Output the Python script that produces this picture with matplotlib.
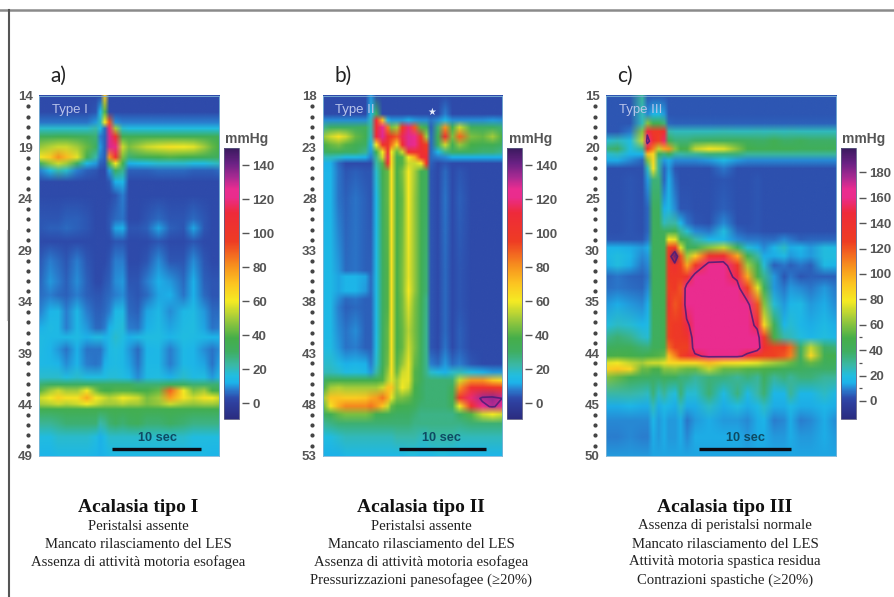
import numpy as np
import matplotlib
matplotlib.use("Agg")
import matplotlib.pyplot as plt
from matplotlib.colors import LinearSegmentedColormap, Normalize
from matplotlib.image import NonUniformImage
from matplotlib.lines import Line2D

W, H = 894, 597

# ---------- colour scale (mmHg on the 150 scale -> colour) ----------
cmap_values = [-9.4, 0, 3, 8, 12, 16, 22, 30, 38, 50, 60, 70, 80, 95, 112, 121, 126, 133, 141, 150]
cmap_colors = ["#2b2c80", "#2e3f9e", "#2e4cac", "#2a80d0", "#1cb4ea", "#22bde0", "#3ab8a8",
               "#3fae62", "#45ae4a", "#a4cc3a", "#f5ea23", "#fcc521", "#f7941e", "#ee3c23",
               "#ee2a3a", "#ea2c8c", "#ea2c90", "#a82a92", "#6a2184", "#3a1a5e"]

# ---------- panel a ----------
a_time = [0, 1.2, 2.1, 3.0, 4.2, 5.3, 6.3, 6.8, 7.3, 7.8, 8.5, 9.3, 10.0, 11.0, 12.0, 13.3, 14.6, 16.1, 17.2, 18.4, 19.3, 20.1]
a_depth = [14, 15.6, 16.6, 17.2, 18, 19, 20, 20.6, 21.3, 22.4, 23.7, 26, 26.9, 28.2, 30.1, 32.1, 33.4, 35, 36.6, 37.5,
           38.7, 40.1, 41.4, 42.1, 42.7, 43.4, 44, 44.5, 45.9, 47.2, 49]
a_pressure = [
    [3,3,3,3,3,3,3,3,70,3,3,3,3,3,3,3,3,3,3,3,3,3],
    [3,3,3,3,3,3,4,14,40,3,3,3,3,3,3,3,3,3,3,3,3,3],
    [7,7,7,7,7,7,10,20,60,90,9,8,8,8,8,8,8,8,8,8,8,8],
    [18,18,18,18,18,18,22,15,6,118,50,18,16,16,16,16,16,16,16,16,16,16],
    [33,33,35,35,33,32,28,8,5,128,105,35,34,34,34,34,34,34,34,34,34,34],
    [48,52,55,55,50,42,30,10,5,128,120,55,45,50,55,58,62,60,58,50,42,38],
    [60,68,80,72,58,35,22,8,5,80,105,45,28,32,35,38,40,38,36,34,32,32],
    [30,48,55,50,30,15,10,5,4,40,60,35,12,14,16,18,18,18,16,16,18,20],
    [8,15,22,18,8,5,4,3,3,10,30,25,5,5,5,6,6,6,5,5,5,6],
    [3,3,3,3,3,3,3,3,3,4,12,14,3,3,3,3,3,3,3,3,3,3],
    [3,3,3,3,3,3,3,3,3,3,4,8,3,3,3,3,3,3,3,3,3,3],
    [4,4,4,5,5,4,3,3,3,4,6,7,3,3,4,6,4,4,6,4,3,3],
    [4,5,5,6,5,4,3,3,3,4,11,12,4,4,5,11,5,4,11,4,3,3],
    [3,3,3,3,3,3,3,3,3,3,4,4,3,3,3,4,3,3,4,3,3,3],
    [4,8,6,4,8,4,3,3,3,4,8,8,3,3,4,9,4,4,9,4,3,3],
    [5,10,8,5,9,5,3,3,4,5,9,10,4,4,8,12,10,6,12,5,4,4],
    [6,8,6,5,8,5,4,4,5,6,8,9,5,4,6,11,12,7,12,6,4,4],
    [8,13,14,8,14,8,5,5,6,8,14,15,6,5,11,14,9,14,15,10,6,6],
    [12,15,14,8,14,10,6,6,8,12,16,17,8,7,12,15,11,15,16,11,7,8],
    [15,14,14,14,15,12,15,15,13,14,18,16,12,14,16,16,13,16,15,14,13,13],
    [15,13,10,7,12,7,7,7,10,14,16,14,10,6,13,14,8,14,13,9,7,9],
    [14,14,13,9,13,8,7,8,12,14,15,14,11,7,14,14,8,14,13,11,7,11],
    [18,18,18,16,18,16,16,16,16,17,17,16,14,9,15,16,12,18,15,16,10,15],
    [28,30,30,30,30,30,30,30,30,30,30,30,30,28,28,28,32,30,28,28,28,28],
    [40,50,55,50,50,60,45,40,38,38,40,40,40,38,38,42,88,60,45,50,38,35],
    [55,60,66,62,62,75,60,58,55,52,55,60,58,55,45,50,78,62,55,62,60,55],
    [50,52,55,52,55,60,55,52,50,50,50,52,50,50,45,48,55,50,48,50,50,48],
    [36,36,36,36,36,36,36,36,36,36,36,36,36,36,36,36,36,36,36,36,36,36],
    [24,24,26,28,28,28,28,22,24,28,30,28,30,32,28,28,30,28,26,26,26,26],
    [16,16,18,18,18,18,16,12,15,18,18,18,18,18,18,18,18,18,16,16,16,16],
    [13,13,14,14,14,14,13,12,13,14,14,14,14,14,14,14,14,14,14,14,13,13],
]

# ---------- panel b ----------
b_time = [0, 0.8, 1.7, 2.5, 3.6, 4.7, 5.3, 5.9, 6.6, 7.2, 7.6, 8.2, 8.8, 9.5, 10.2, 10.9, 11.5, 12.0, 12.8, 13.6, 14.4, 15.2, 16.5, 17.8, 18.9, 20.0]
b_depth = [18, 19.8, 20.4, 21.1, 22, 22.8, 23.5, 24, 24.6, 25.4, 28, 35, 35.6, 37, 37.8, 38.6, 40.9, 42.5, 44.1, 44.9,
           45.7, 46.4, 47.4, 48.2, 49, 49.9, 51.2, 53]
b_pressure = [
    [3,3,3,3,3,3,10,3,3,3,3,3,3,3,3,3,3,3,3,3,3,3,3,3,3,3],
    [3,3,3,3,3,3,14,30,3,3,3,3,3,3,3,3,3,3,3,8,3,3,3,3,3,3],
    [9,9,9,9,9,9,20,110,70,14,10,10,10,12,10,9,9,7,9,14,9,9,9,9,10,9],
    [25,30,30,30,30,32,22,108,126,85,45,50,95,118,90,40,32,5,28,80,35,55,32,30,30,28],
    [48,55,62,55,42,35,20,112,127,108,95,90,115,127,124,95,50,6,35,105,45,88,45,42,50,38],
    [38,42,45,40,35,30,12,60,102,102,85,65,108,127,122,108,95,6,30,55,35,48,38,35,35,30],
    [30,32,32,30,30,25,10,35,60,108,60,42,55,105,105,108,102,6,14,25,30,30,30,28,28,25],
    [20,20,18,15,15,12,8,25,55,115,65,35,40,60,75,105,110,6,8,9,12,12,12,12,12,12],
    [12,12,6,3,3,3,3,22,40,105,65,38,40,55,55,60,100,5,3,4,3,3,3,3,3,3],
    [13,13,7,4,5,4,4,18,35,42,62,38,45,60,50,35,32,4,3,6,3,4,3,3,3,3],
    [13,13,7,5,7,5,4,14,32,42,62,38,42,60,48,35,30,4,3,7,3,5,3,3,3,3],
    [14,14,10,6,7,5,5,15,30,40,62,38,45,58,48,35,28,4,3,6,3,4,3,3,3,3],
    [14,14,11,13,13,11,6,15,30,40,62,38,45,58,48,35,28,4,3,6,3,4,3,3,3,3],
    [14,14,11,13,13,10,6,15,30,40,62,38,45,60,48,35,28,4,3,6,3,4,3,3,3,3],
    [14,14,9,6,7,5,5,15,30,40,62,38,44,58,46,35,26,4,3,6,3,4,3,3,3,3],
    [14,14,8,5,6,5,5,15,30,40,62,38,44,56,45,34,26,4,3,6,3,4,3,3,3,3],
    [14,14,9,7,9,5,5,15,30,42,62,38,42,52,44,33,25,4,3,6,3,5,3,3,3,3],
    [15,15,10,7,8,5,5,16,32,42,62,38,42,55,45,32,25,4,3,7,3,5,3,3,3,3],
    [18,18,15,12,13,12,8,18,32,44,62,40,48,58,42,32,25,8,6,10,6,8,4,3,3,3],
    [20,20,18,15,16,14,10,22,35,48,62,42,55,58,40,32,25,18,15,12,18,20,16,12,10,10],
    [30,35,36,36,36,36,36,38,40,52,58,50,58,58,40,32,28,28,28,28,28,55,80,80,70,65],
    [38,50,52,50,50,50,50,50,55,70,70,50,60,55,38,30,28,28,28,28,32,80,105,105,100,95],
    [50,70,70,68,68,70,75,78,85,75,58,45,45,42,35,30,28,28,28,28,35,100,118,133,135,130],
    [42,62,75,82,82,82,85,80,70,55,42,38,36,35,32,28,28,28,28,28,32,60,105,125,132,125],
    [32,35,42,45,45,45,42,36,35,33,32,30,30,30,28,26,26,26,26,26,26,30,40,55,60,55],
    [24,26,28,28,28,28,28,28,28,28,28,28,28,28,26,26,26,26,26,26,26,26,28,28,28,28],
    [16,16,18,20,20,20,20,20,20,20,20,22,22,22,22,20,20,22,22,22,22,20,20,20,20,20],
    [12,12,12,14,14,14,14,14,14,14,14,14,14,16,16,14,14,14,16,16,14,14,13,13,13,13],
]

# ---------- panel c ----------
c_time = [0, 1.2, 2.6, 3.9, 4.5, 5.1, 5.7, 6.3, 6.8, 7.5, 8.1, 8.8, 9.7, 11.2, 12.8, 14.3, 15.4, 16.5, 17.2, 18.3, 19.4, 20.1, 21.2, 22.3, 23.8, 25.1]
c_depth = [15, 16.8, 17.7, 18.5, 19.4, 20.2, 20.7, 21.3, 22.1, 23.2, 26, 27.4, 28.2, 29, 29.8, 30.6, 31.5, 32.6, 33.7, 35.3,
           37.3, 38.5, 39.5, 40.3, 41, 41.6, 42.4, 44, 45.2, 46.6, 48.2, 50]
c_pressure = [
    [4,4,4,30,4,4,4,4,4,4,4,4,4,4,4,4,4,4,4,4,4,4,4,4,4,4],
    [4,4,4,25,10,16,18,12,4,4,4,4,4,4,4,4,4,4,4,4,4,4,4,4,4,4],
    [4,4,4,25,60,45,45,35,6,5,5,5,5,5,5,5,5,5,5,5,5,5,5,5,5,5],
    [4,4,8,60,150,130,130,140,28,25,25,25,25,25,26,25,25,26,25,26,25,26,25,25,25,25],
    [22,25,20,70,165,140,125,155,45,35,35,35,38,40,40,42,40,38,38,45,38,38,42,38,38,38],
    [35,38,20,30,130,110,70,100,105,60,48,50,70,80,75,60,48,45,45,45,45,45,42,42,42,42],
    [22,25,15,15,95,85,40,35,45,30,28,30,30,35,35,35,30,30,30,30,30,30,30,30,30,30],
    [14,14,10,6,60,85,30,12,14,10,10,10,10,12,18,12,10,10,10,10,10,10,10,10,10,10],
    [3,3,3,3,25,80,30,6,12,4,3,3,3,3,8,3,3,3,3,3,3,3,3,3,3,3],
    [3,3,4,3,12,35,35,6,14,6,3,3,3,3,4,3,3,4,3,3,3,3,3,3,3,3],
    [3,3,4,3,6,40,40,14,18,10,4,4,3,3,5,3,3,4,3,3,3,3,3,3,3,3],
    [3,3,4,3,6,40,42,25,28,28,16,8,4,3,10,3,3,4,3,3,3,3,3,3,3,3],
    [3,3,4,3,6,40,42,40,40,45,30,22,10,8,20,6,4,4,3,3,3,3,3,3,3,3],
    [4,4,4,4,8,42,42,45,80,75,45,38,28,16,16,10,8,8,7,7,10,8,5,6,6,6],
    [15,15,14,12,14,42,42,45,125,130,75,42,42,60,70,40,22,14,10,16,24,14,16,12,20,18],
    [16,20,16,10,12,42,42,45,130,190,120,65,90,135,140,100,45,28,14,14,18,12,14,12,20,20],
    [14,20,14,8,10,42,42,45,130,140,125,100,130,166,166,130,65,40,22,5,8,5,8,5,18,15],
    [6,8,6,5,8,42,42,45,130,130,130,135,166,166,166,150,100,50,32,12,4,8,4,5,5,5],
    [7,8,7,6,10,42,42,45,125,130,120,166,166,166,166,166,125,75,42,12,8,12,10,8,12,8],
    [12,14,12,10,14,42,42,45,135,120,125,166,166,166,166,166,165,120,60,22,12,16,18,12,14,10],
    [20,24,22,16,18,40,40,45,125,130,130,150,166,166,166,166,166,150,85,42,16,22,16,14,18,14],
    [32,36,32,24,22,40,40,45,125,130,130,135,166,166,166,166,166,166,130,50,28,25,20,16,20,16],
    [40,42,42,36,35,42,42,48,115,125,125,125,166,166,166,166,166,166,140,125,125,115,38,70,38,35],
    [48,50,48,45,48,50,52,55,95,110,125,135,150,160,160,160,150,130,125,125,120,110,40,85,45,48],
    [75,78,70,65,70,72,72,75,85,85,85,85,85,95,85,82,78,75,70,65,60,55,42,55,42,42],
    [88,92,85,55,55,50,50,60,60,62,58,55,55,70,55,55,52,52,50,48,42,42,40,38,38,38],
    [60,55,45,40,40,38,38,42,40,40,35,35,30,35,35,30,35,30,40,30,35,30,35,35,30,30],
    [28,28,28,26,24,35,24,30,24,20,35,22,22,36,18,34,18,28,36,16,16,30,16,16,24,16],
    [14,14,16,14,14,25,14,18,16,14,24,14,14,24,14,20,14,18,24,14,14,18,14,14,16,14],
    [10,10,10,10,10,16,12,14,12,12,14,8,12,14,12,12,10,14,15,9,10,14,9,10,14,10],
    [9,9,10,9,9,14,12,14,12,12,14,10,14,14,14,14,12,14,14,12,12,14,12,12,14,12],
    [12,12,12,12,12,13,13,13,13,13,13,13,13,13,13,13,13,13,13,13,13,13,13,13,13,13],
]

# ---------- labels ----------
a_ticks = [14, 19, 24, 29, 34, 39, 44, 49]
b_ticks = [18, 23, 28, 33, 38, 43, 48, 53]
c_ticks = [15, 20, 25, 30, 35, 40, 45, 50]
c_ticklabels = ["15", "20", "25", "30", "35", "44", "45", "50"]
ab_cbar_ticks = [0, 20, 40, 60, 80, 100, 120, 140]
c_cbar_ticks = [0, 20, 40, 60, 80, 100, 120, 140, 160, 180]
c_cbar_minor = [10, 30, 50]
titles = ["Acalasia tipo I", "Acalasia tipo II", "Acalasia tipo III"]
notes = [
    ["Peristalsi assente", "Mancato rilasciamento del LES", "Assenza di attività motoria esofagea"],
    ["Peristalsi assente", "Mancato rilasciamento del LES", "Assenza di attività motoria esofagea",
     "Pressurizzazioni panesofagee (≥20%)"],
    ["Assenza di peristalsi normale", "Mancato rilasciamento del LES", "Attività motoria spastica residua",
     "Contrazioni spastiche (≥20%)"],
]

# ---------- drawing ----------
cmap = LinearSegmentedColormap.from_list(
    "hrm", [((v + 9.4) / 159.4, col) for v, col in zip(cmap_values, cmap_colors)], N=512)

fig = plt.figure(figsize=(W / 100, H / 100), dpi=100, facecolor="white")
GREY = "#555555"


def rect(x0, y0, x1, y1):
    return [x0 / W, 1 - y1 / H, (x1 - x0) / W, (y1 - y0) / H]


def ftext(x, y, s, **kw):
    kw.setdefault("ha", "center")
    kw.setdefault("va", "center")
    return fig.text(x / W, 1 - y / H, s, **kw)


panels = [
    dict(time=a_time, depth=a_depth, z=a_pressure, ticks=a_ticks, labels=None, box=(39, 96, 219, 456),
         cbox=(224, 148, 239, 419), vmin=-9.4, vmax=150, cticks=ab_cbar_ticks, minor=[], bar=(8.1, 18.1), bar_off=0.7,
         level=None, label="a)", lx=58, ttl=(70, "Type I"), sec=157, mm=247, tx=138),
    dict(time=b_time, depth=b_depth, z=b_pressure, ticks=b_ticks, labels=None, box=(323, 96, 502, 456),
         cbox=(507, 148, 522, 419), vmin=-9.4, vmax=150, cticks=ab_cbar_ticks, minor=[], bar=(8.5, 18.25), bar_off=0.7,
         level=130, label="b)", lx=343, ttl=(355, "Type II"), sec=442, mm=531, tx=421),
    dict(time=c_time, depth=c_depth, z=c_pressure, ticks=c_ticks, labels=c_ticklabels, box=(606, 96, 836, 456),
         cbox=(841, 148, 856, 419), vmin=-14.2, vmax=199.2, cticks=c_cbar_ticks, minor=c_cbar_minor, bar=(10.2, 20.2),
         bar_off=0.7, level=155, label="c)", lx=625, ttl=(641, "Type III"), sec=746, mm=864, tx=725),
]

for i, p in enumerate(panels):
    x0, y0, x1, y1 = p["box"]
    ax = fig.add_axes(rect(x0, y0, x1, y1))
    z = np.array(p["z"], dtype=float)
    norm = Normalize(p["vmin"], p["vmax"])
    ax.set_xlim(p["time"][0], p["time"][-1])
    ax.set_ylim(p["ticks"][-1], p["ticks"][0])
    im = NonUniformImage(ax, interpolation="bilinear", cmap=cmap, norm=norm,
                         extent=(p["time"][0], p["time"][-1], p["ticks"][-1], p["ticks"][0]))
    im.set_data(p["time"], p["depth"], z)
    ax.add_image(im)
    if p["level"] is not None:
        ax.contour(p["time"], p["depth"], z, levels=[p["level"]], colors="#4a1d78", linewidths=1.2, alpha=0.85)
    ax.set_xlim(p["time"][0], p["time"][-1])
    ax.set_ylim(p["ticks"][-1], p["ticks"][0])
    ax.set_xticks([])
    ax.set_yticks(p["ticks"])
    ax.set_yticklabels(p["labels"] if p["labels"] else [str(t) for t in p["ticks"]],
                       fontsize=9.5, color=GREY, family="Liberation Sans", fontweight="bold")
    ax.tick_params(axis="y", length=0, pad=4.5)
    for s in ax.spines.values():
        s.set_edgecolor("#7fb6d8")
        s.set_linewidth(0.6)

    # dotted sensor column between the depth labels
    dots = [d for d in range(p["ticks"][0], p["ticks"][-1]) if d not in p["ticks"]]
    ax.plot([-11.5 / (x1 - x0)] * len(dots), dots, ls="none", marker="o", ms=2.0, color="#444444",
            transform=ax.get_yaxis_transform(), clip_on=False)

    # 10-second scale bar
    ax.plot(p["bar"], [p["ticks"][-1] - p["bar_off"]] * 2, color="#0b0b14", lw=2.4, solid_capstyle="butt")

    # colour bar
    cx0, cy0, cx1, cy1 = p["cbox"]
    cax = fig.add_axes(rect(cx0, cy0, cx1, cy1))
    cb = fig.colorbar(im, cax=cax)
    cb.set_ticks(p["cticks"])
    cb.set_ticklabels([str(t) for t in p["cticks"]])
    if p["minor"]:
        cb.ax.set_yticks(p["minor"], minor=True)
    cax.spines["right"].set_position(("outward", 2.5))
    cax.tick_params(axis="y", which="major", length=5, width=1.0, color="#555555", pad=2, labelsize=9.5,
                    labelcolor=GREY)
    cax.tick_params(axis="y", which="minor", length=2.5, width=0.9, color="#555555")
    for lab in cax.get_yticklabels():
        lab.set_family("Liberation Sans")
        lab.set_fontweight("bold")
    cb.outline.set_edgecolor("#5a5a80")
    cb.outline.set_linewidth(0.6)

    ftext(p["mm"], 139, "mmHg", fontsize=10, color=GREY, family="Liberation Sans", fontweight="bold")
    ftext(p["lx"], 76, p["label"], fontsize=15, color="#222222", family="Lato")
    ftext(p["ttl"][0], 110, p["ttl"][1], fontsize=9.5, color="#b9c4ea", family="Liberation Sans")
    ftext(p["sec"], 438, "10 sec", fontsize=9.2, color="#0e4a63", family="Liberation Sans", fontweight="bold")

    # captions
    ftext(p["tx"], 507, titles[i], fontsize=14, color="#111111", family="Liberation Serif", fontweight="bold")
    for j, line in enumerate(notes[i]):
        ftext(p["tx"], 526 + j * 18, line, fontsize=10.6, color="#222222", family="Liberation Serif")

# star annotation in panel b
ftext(432, 112, "★", fontsize=7, color="#e6ecfa", family="DejaVu Sans")

# frame of the original figure
fig.add_artist(Line2D([0, 1], [1 - 10 / H, 1 - 10 / H], color="#8a8a8a", lw=1.8))
fig.add_artist(Line2D([9 / W, 9 / W], [0, 1 - 10 / H], color="#555555", lw=1.5))
fig.add_artist(Line2D([7 / W, 7 / W], [1 - 230 / H, 1 - 320 / H], color="#c4c4c4", lw=0.8))

fig.savefig("out.png", dpi=100, facecolor="white")
